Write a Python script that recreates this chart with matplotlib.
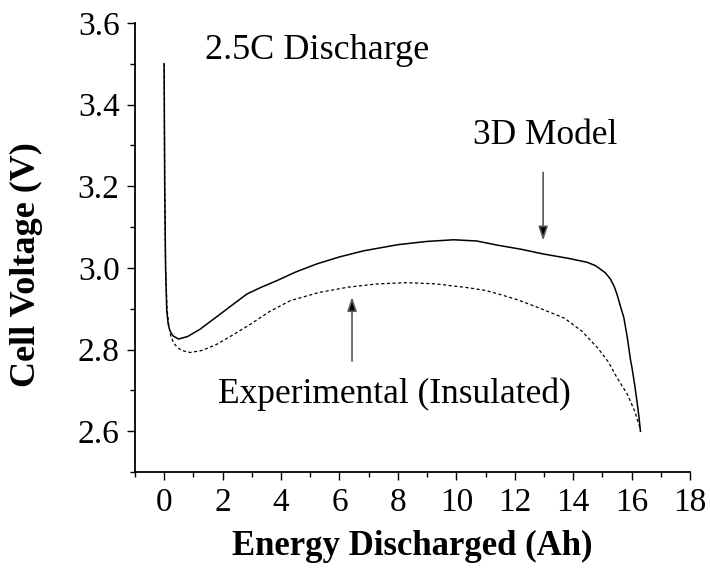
import matplotlib
matplotlib.use('Agg')
import matplotlib.pyplot as plt
from matplotlib.ticker import MultipleLocator

plt.rcParams['font.family'] = 'Liberation Serif'

#%% Discharge curves at 2.5C (capacity in Ah, voltage in V)
model_ah = [0, 0.02, 0.05, 0.09, 0.14, 0.2, 0.3, 0.49, 0.8, 1.23, 1.92, 2.4,
            2.83, 3.3, 3.86, 4.5, 5.23, 6.0, 6.83, 8.0, 9.0, 9.91, 10.7,
            11.39, 12.2, 12.99, 13.8, 14.47, 14.75, 14.93, 15.1, 15.27, 15.4,
            15.5, 15.62, 15.73, 15.85, 15.96, 16.01, 16.1, 16.18, 16.25, 16.3]
model_v = [3.5, 3.2, 3.0, 2.895, 2.862, 2.846, 2.834, 2.826, 2.832, 2.85,
           2.887, 2.913, 2.936, 2.952, 2.969, 2.99, 3.01, 3.027, 3.042, 3.057,
           3.065, 3.069, 3.066, 3.056, 3.046, 3.034, 3.024, 3.014, 3.006,
           2.997, 2.988, 2.973, 2.955, 2.935, 2.905, 2.879, 2.83, 2.775,
           2.756, 2.715, 2.674, 2.635, 2.60]

exp_ah = [0, 0.02, 0.05, 0.1, 0.16, 0.22, 0.32, 0.45, 0.6, 0.89, 1.3, 1.8,
          2.4, 2.95, 3.6, 4.32, 5.3, 6.3, 7.3, 8.3, 9.3, 10.36, 11.0, 11.5,
          12.1, 12.8, 13.7, 14.3, 14.85, 15.2, 15.5, 15.85, 16.1, 16.3]
exp_v = [3.5, 3.2, 3.0, 2.9, 2.86, 2.835, 2.817, 2.806, 2.798, 2.793, 2.798,
         2.813, 2.838, 2.862, 2.893, 2.92, 2.94, 2.953, 2.961, 2.964, 2.961,
         2.952, 2.945, 2.935, 2.922, 2.903, 2.877, 2.845, 2.803, 2.77, 2.731,
         2.691, 2.65, 2.605]

#%% Plotting
fig = plt.figure(figsize=(7.1, 5.73), dpi=100)
ax = fig.add_axes([0.190, 0.176, 0.782, 0.784])

ax.plot(model_ah, model_v, color='black', lw=1.1)
ax.plot(exp_ah, exp_v, color='black', lw=0.9, linestyle=(0, (2.5, 2)))

ax.set_xlim(-1, 18)
ax.set_ylim(2.5, 3.6)
ax.xaxis.set_major_locator(MultipleLocator(2))
ax.xaxis.set_minor_locator(MultipleLocator(1))
ax.yaxis.set_minor_locator(MultipleLocator(0.1))
ax.set_yticks([2.6, 2.8, 3.0, 3.2, 3.4, 3.6])
ax.set_yticklabels(['2.6', '2.8', '3.0', '3.2', '3.4', '3.6'])

for side in ['top', 'right']:
    ax.spines[side].set_visible(False)
for side in ['left', 'bottom']:
    ax.spines[side].set_linewidth(1.3)

ax.tick_params(which='major', direction='out', length=6, width=1.0,
               labelsize=24, pad=5)
ax.tick_params(which='minor', direction='out', length=3.5, width=1.0)

ax.set_xlabel('Energy Discharged (Ah)', fontsize=25, fontweight='bold')
ax.set_ylabel('Cell Voltage (V)', fontsize=26, fontweight='bold')
ax.xaxis.set_label_coords(0.5, -0.128)
ax.yaxis.set_label_coords(-0.166, 0.461)

ax.text(1.4, 3.533, '2.5C Discharge', fontsize=26, va='center', ha='left')
ax.text(13.05, 3.325, '3D Model', fontsize=25.5, va='center', ha='center')
ax.text(7.88, 2.69, 'Experimental (Insulated)', fontsize=25.5,
        va='center', ha='center')

arrow = dict(arrowstyle='-|>,head_length=0.6,head_width=0.2',
             fc='black', ec='0.35', lw=1.2, mutation_scale=14,
             shrinkA=0, shrinkB=0)
ax.annotate('', xy=(12.97, 3.067), xytext=(12.97, 3.234), arrowprops=arrow)
ax.annotate('', xy=(6.43, 2.929), xytext=(6.43, 2.772), arrowprops=arrow)

plt.savefig('out.png', dpi=100)
